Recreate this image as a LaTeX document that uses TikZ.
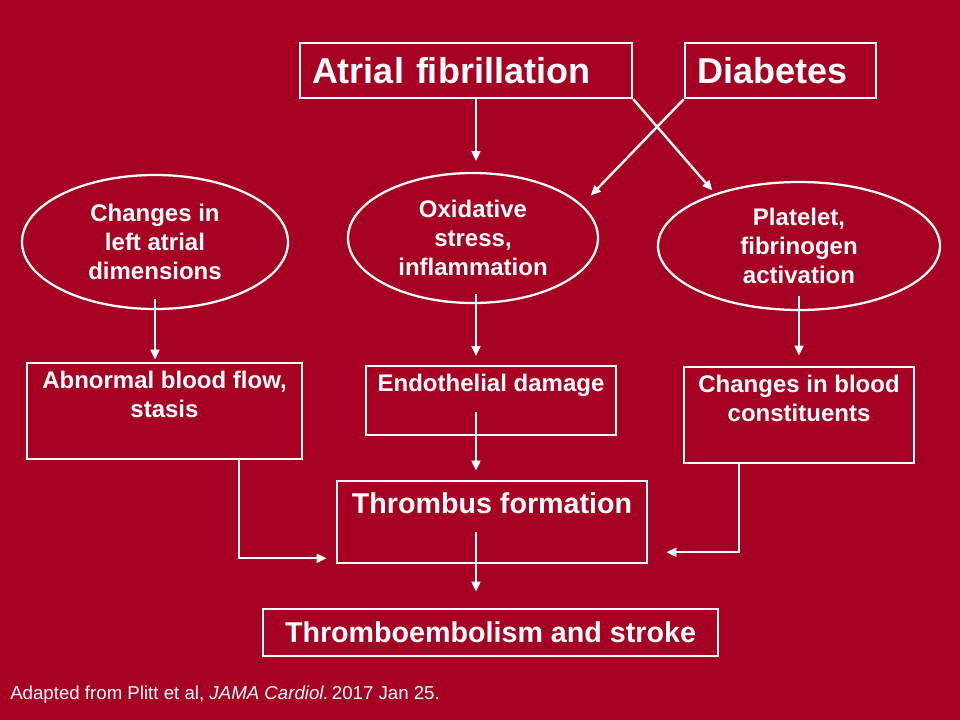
\documentclass[tikz,border=0pt]{standalone}
\usepackage{fontspec}
\setmainfont{Liberation Sans}
\usepackage{tikz}
\usetikzlibrary{arrows.meta}
\usetikzlibrary{calc}
\usepackage{xcolor}
\usetikzlibrary{arrows.meta,shapes.geometric}
\definecolor{slidered}{RGB}{166,0,34}

\begin{document}
\begin{tikzpicture}[x=0.75pt,y=-0.75pt,>={Triangle[length=7.5pt,width=6.5pt]},
		every node/.style={text=white,font=\bfseries},
		box/.style={draw=white,line width=1.9pt,rectangle,inner sep=0pt},
		oval/.style={draw=white,line width=1.7pt,ellipse,inner sep=0pt,align=center,font=\fontsize{18}{21.75}\selectfont\bfseries},
		bigtxt/.style={font=\fontsize{27}{32}\selectfont\bfseries},
		midtxt/.style={font=\fontsize{18}{21.75}\selectfont\bfseries,align=center,inner sep=0pt,anchor=north},
		thrtxt/.style={font=\fontsize{21.5}{25}\selectfont\bfseries,inner sep=0pt},
		arr/.style={->,draw=white,line width=1.8pt}]
		
		% background of the slide
		\fill[slidered] (0,0) rectangle (960,720);
		
		%--- Causes: top row ---
		\node[box,bigtxt,minimum width=249pt,minimum height=41.25pt,text width=231pt,align=left] (af) at (466,70.5) {Atrial fibrillation};
		\node[box,bigtxt,minimum width=143.25pt,minimum height=41.25pt,text width=125.25pt,align=left] (diab) at (780.5,70.5) {Diabetes};
		
		%--- Mechanisms: ellipses ---
		\node[oval,minimum width=199.5pt,minimum height=100.5pt] (lad) at (155,242) {Changes in\\left atrial\\dimensions};
		\node[oval,minimum width=187.5pt,minimum height=97.5pt] (ox) at (473,238) {Oxidative\\stress,\\inflammation};
		\node[oval,minimum width=211.5pt,minimum height=96pt] (plt) at (799,246) {Platelet,\\fibrinogen\\activation};
		
		%--- Effects: boxes, text at the top ---
		\node[box,minimum width=206.25pt,minimum height=72pt] (abn) at (164.5,411) {};
		\node[midtxt] (abnT) at ([yshift=-6.5pt]abn.north) {Abnormal blood flow,\\stasis};
		
		\node[box,minimum width=187.5pt,minimum height=51.75pt] (endo) at (491,400.5) {};
		\node[midtxt] (endoT) at ([yshift=-7pt]endo.north) {Endothelial damage};
		
		\node[box,minimum width=172.5pt,minimum height=72pt] (blood) at (799,415) {};
		\node[midtxt] (bloodT) at ([yshift=-6.5pt]blood.north) {Changes in blood\\constituents};
		
		%--- Outcome ---
		\node[box,minimum width=232.5pt,minimum height=61.5pt] (thr) at (492,522) {};
		\node[thrtxt,anchor=north] (thrT) at ([yshift=-9.5pt]thr.north) {Thrombus formation};
		
		\node[box,thrtxt,minimum width=341.25pt,minimum height=35.25pt] (stroke) at (490.5,632.5) {Thromboembolism and stroke};
		
		% source line
		\node[font=\fontsize{14}{17}\selectfont,anchor=west,inner sep=0pt] (src) at (10,695) {Adapted from Plitt et al, \textit{JAMA Cardiol.}\,2017 Jan 25.};
		
		%--- Arrows ---
		\coordinate (spine) at (476,0);
		
		% centre column
		\draw[arr,shorten >=8pt] (af.south -| spine) -- (ox.north -| spine);
		\draw[arr,shorten <=-7.5pt,shorten >=6.5pt] (ox.south -| spine) -- (endo.north -| spine);
		\draw[arr,shorten <=-18pt,shorten >=6.75pt] (endo.south -| spine) -- (thr.north -| spine);
		\draw[arr,shorten <=-24pt,shorten >=12pt] (thr.south -| spine) -- (stroke.north -| spine);
		
		% crossing arrows
		\draw[arr,shorten >=3pt] (af.south east) -- (plt.148);
		\draw[arr,shorten >=9.5pt] (diab.south west) -- (ox.17);
		
		% side columns
		\draw[arr,shorten <=-8pt,shorten >=1.5pt] (lad.south) -- (lad.south |- abn.north);
		\draw[arr,shorten <=-11pt,shorten >=7.5pt] (plt.south) -- (plt.south |- blood.north);
		
		% into thrombus formation
		\draw[arr] ([xshift=55.9pt]abn.south) |- ([xshift=-6.75pt,yshift=4.5pt]thr.south west);
		\draw[arr] ([xshift=-45pt]blood.south) |- ([xshift=13.5pt,yshift=9pt]thr.south east);
		
	\end{tikzpicture}
\end{document}
